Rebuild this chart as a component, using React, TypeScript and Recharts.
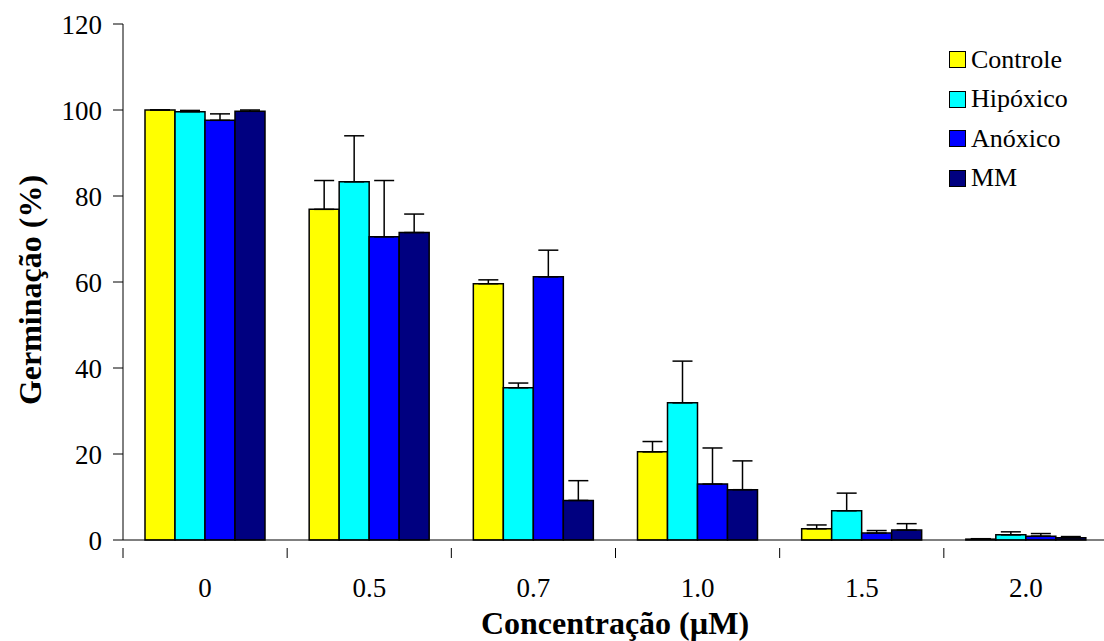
import React from "react";
import { BarChart, Bar, XAxis, YAxis, ErrorBar, Legend } from "recharts";

const categories = ["0", "0.5", "0.7", "1.0", "1.5", "2.0"];
const controle = [100, 76.9, 59.6, 20.5, 2.6, 0.2];
const controleErr = [0, 6.7, 0.9, 2.4, 0.9, 0.1];
const hipoxico = [99.6, 83.3, 35.4, 31.9, 6.8, 1.2];
const hipoxicoErr = [0.3, 10.7, 1.1, 9.7, 4.1, 0.7];
const anoxico = [97.6, 70.5, 61.2, 13.0, 1.6, 0.9];
const anoxicoErr = [1.5, 13.1, 6.2, 8.4, 0.6, 0.6];
const mm = [99.7, 71.5, 9.2, 11.7, 2.3, 0.5];
const mmErr = [0.3, 4.3, 4.6, 6.7, 1.5, 0.3];
const yTicks = [0, 20, 40, 60, 80, 100, 120];

const series = [
  { key: "controle", name: "Controle", color: "#FFFF00" },
  { key: "hipoxico", name: "Hipóxico", color: "#00FFFF" },
  { key: "anoxico", name: "Anóxico", color: "#0000FF" },
  { key: "mm", name: "MM", color: "#000080" },
];

// error bars only go upwards, so the lower part is 0
const data = categories.map((c, i) => ({
  conc: c,
  controle: controle[i],
  controleErr: [0, controleErr[i]],
  hipoxico: hipoxico[i],
  hipoxicoErr: [0, hipoxicoErr[i]],
  anoxico: anoxico[i],
  anoxicoErr: [0, anoxicoErr[i]],
  mm: mm[i],
  mmErr: [0, mmErr[i]],
}));

const FONT = '"Liberation Serif", "Times New Roman", serif';

function XTick(props: any) {
  const { x, y, payload, index } = props;
  const half = typeof payload?.offset === "number" && payload.offset > 0 ? payload.offset : 82;
  const last = index === categories.length - 1;
  return (
    <g>
      <line x1={x - half} x2={x - half} y1={y} y2={y + 10} stroke="#000" strokeWidth={1} />
      {last && <line x1={x + half} x2={x + half} y1={y} y2={y + 10} stroke="#000" strokeWidth={1} />}
      <text x={x} y={y + 49} textAnchor="middle" fontSize={27} fontFamily={FONT} fill="#000">
        {payload.value}
      </text>
    </g>
  );
}

function renderLegend() {
  return (
    <div style={{ fontFamily: FONT, fontSize: 26, color: "#000" }}>
      {series.map((s) => (
        <div key={s.key} style={{ display: "flex", alignItems: "center", height: 39.5 }}>
          <span
            style={{
              display: "inline-block",
              width: 15,
              height: 15,
              background: s.color,
              border: "1px solid #000",
              marginRight: 5,
            }}
          />
          <span>{s.name}</span>
        </div>
      ))}
    </div>
  );
}

export default function App() {
  return (
    <div
      style={{
        position: "absolute",
        left: 0,
        top: 0,
        width: 1104,
        height: 641,
        overflow: "hidden",
        background: "#fff",
      }}
    >
      <BarChart
        width={1108}
        height={641}
        data={data}
        margin={{ top: 24, right: 0, bottom: 0, left: 0 }}
        barCategoryGap={22}
        barGap={0}
      >
        <XAxis
          dataKey="conc"
          height={101}
          tickLine={false}
          axisLine={{ stroke: "#000", strokeWidth: 1 }}
          tick={<XTick />}
          interval={0}
          label={{
            content: () => (
              <text
                x={615}
                y={634}
                textAnchor="middle"
                fontSize={32}
                fontWeight="bold"
                fontFamily={FONT}
                fill="#000"
              >
                Concentração (µM)
              </text>
            ),
          }}
        />
        <YAxis
          width={123}
          domain={[0, 120]}
          ticks={yTicks}
          interval={0}
          tickSize={10}
          tickMargin={11}
          axisLine={{ stroke: "#000", strokeWidth: 1 }}
          tickLine={{ stroke: "#000", strokeWidth: 1 }}
          tick={{ fontSize: 27, fontFamily: FONT, fill: "#000" }}
          label={{
            content: () => (
              <text
                x={30}
                y={290}
                transform="rotate(-90, 30, 290)"
                textAnchor="middle"
                dominantBaseline="central"
                fontSize={32}
                fontWeight="bold"
                fontFamily={FONT}
                fill="#000"
              >
                Germinação (%)
              </text>
            ),
          }}
        />
        <Legend
          layout="horizontal"
          verticalAlign="middle"
          align="center"
          content={renderLegend}
          wrapperStyle={{ left: 949, top: 40, width: 155, height: 160 }}
        />
        {series.map((s) => (
          <Bar
            key={s.key}
            dataKey={s.key}
            name={s.name}
            fill={s.color}
            stroke="#000"
            strokeWidth={1.5}
            isAnimationActive={false}
          >
            <ErrorBar
              dataKey={s.key + "Err"}
              direction="y"
              width={10}
              stroke="#000"
              strokeWidth={1.5}
              isAnimationActive={false}
            />
          </Bar>
        ))}
      </BarChart>
    </div>
  );
}
